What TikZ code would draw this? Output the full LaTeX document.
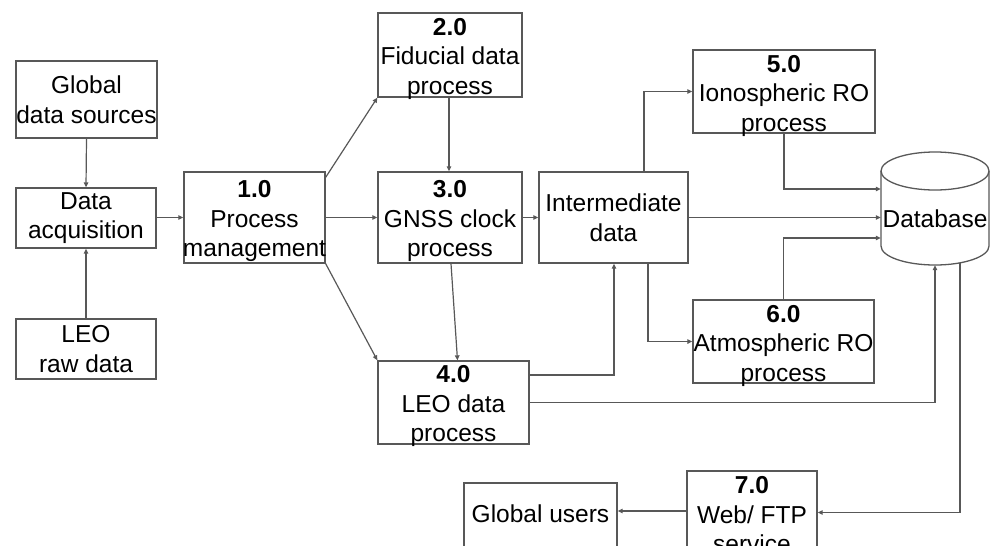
\documentclass[tikz,border=0pt]{standalone}
\usepackage{fontspec}
\setmainfont{Liberation Sans}
\usetikzlibrary{arrows.meta}
\definecolor{edgegray}{RGB}{88,88,88}
\begin{document}
\begin{tikzpicture}[x=1pt,y=-1pt,
  blk/.style={draw=edgegray, line width=1.3pt, rectangle, inner sep=0pt},
  txt/.style={inner sep=0pt, align=center, text=black,
    font=\fontsize{24.5}{29.5}\selectfont},
  txtthree/.style={txt, yshift=-3.5pt},
  conn/.style={draw=edgegray, line width=1.2pt,
    -{Triangle[length=5pt,width=4.5pt]}}]
\useasboundingbox (0,0) rectangle (993,546);
\clip (0,0) rectangle (993,546);

% process boxes
\node[blk, minimum width=141, minimum height=77] (gds) at (86.5,99.5) {};
\node[blk, minimum width=140, minimum height=60] (da) at (86,218) {};
\node[blk, minimum width=140, minimum height=60] (leo) at (86,349) {};
\node[blk, minimum width=141, minimum height=91] (p1) at (254.5,217.5) {};
\node[blk, minimum width=144, minimum height=84] (p2) at (450,55) {};
\node[blk, minimum width=144, minimum height=91] (p3) at (450,217.5) {};
\node[blk, minimum width=149, minimum height=91] (inter) at (613.5,217.5) {};
\node[blk, minimum width=182, minimum height=83] (p5) at (784,91.5) {};
\node[blk, minimum width=181, minimum height=83] (p6) at (783.5,341.5) {};
\node[blk, minimum width=151, minimum height=83] (p4) at (453.5,402.5) {};
\node[blk, minimum width=130, minimum height=83] (p7) at (752,512.5) {};
\node[blk, minimum width=153, minimum height=65] (gu) at (540.5,515.5) {};

% database cylinder
\node[inner sep=0pt, minimum width=108, minimum height=113] (db) at (935,208.5) {};
\draw[edgegray, line width=1.3pt]
  (881,171) -- (881,246) arc[start angle=180, end angle=0, x radius=54, y radius=19]
  -- (989,171);
\draw[edgegray, line width=1.3pt] (935,171) ellipse[x radius=54, y radius=19];

% labels
\node[txt] (gdsT) at (gds) {Global\\data sources};
\node[txt] (daT) at (da) {Data\\acquisition};
\node[txt] (leoT) at (leo) {LEO\\raw data};
\node[txtthree] (p1T) at (p1) {\textbf{1.0}\\Process\\management};
\node[txtthree] (p2T) at (p2) {\textbf{2.0}\\Fiducial data\\process};
\node[txtthree] (p3T) at (p3) {\textbf{3.0}\\GNSS clock\\process};
\node[txt] (interT) at (inter) {Intermediate\\data};
\node[txtthree] (p5T) at (784,92) {\textbf{5.0}\\Ionospheric RO\\process};
\node[txtthree] (p6T) at (783.5,342) {\textbf{6.0}\\Atmospheric RO\\process};
\node[txtthree] (p4T) at (p4) {\textbf{4.0}\\LEO data\\process};
\node[txtthree] (p7T) at (752,511.5) {\textbf{7.0}\\Web/ FTP\\service};
\node[txt] (guT) at (540.5,514) {Global users};
\node[txt] (dbT) at (935,219) {Database};

% connectors
\draw[conn] (gds.south) -- (da.north);
\draw[conn] (leo.north) -- (da.south);
\draw[conn] (da.east |- p1.west) -- (p1.west);
\draw[conn] ([yshift=-6pt]p1.north east) -- (p2.south west);
\draw[conn] (p1.east) -- (p3.west);
\draw[conn] (p1.south east) -- (p4.north west);
\draw[conn] ([xshift=-1pt]p2.south) -- ([xshift=-1pt]p3.north);
\draw[conn] ([xshift=1pt]p3.south) -- ([xshift=4pt]p4.north);
\draw[conn] (p3.east) -- (inter.west);
\draw[conn] (p4.east |- 0,375) -| (inter.south -| 614,0);
\draw[conn] (inter.north -| 644,0) |- (p5.west);
\draw[conn] (inter.south -| 648,0) |- (p6.west);
\draw[conn] (inter.east) -- (db.west |- inter.east);
\draw[conn] (p5.south) |- (db.west |- 0,189);
\draw[conn] (p6.north) |- (db.west |- 0,238);
\draw[conn] (p4.east) -| (db.south);
\draw[conn] (960,263) |- (p7.east);
\draw[conn] (p7.west |- 0,511) -- (gu.east |- 0,511);
\end{tikzpicture}
\end{document}
